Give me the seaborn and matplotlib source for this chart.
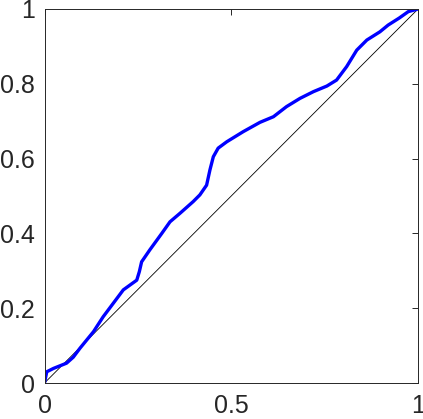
import matplotlib
matplotlib.use("Agg")
import matplotlib.pyplot as plt
import seaborn as sns
import pandas as pd

x_vals = [0.0, 0.006, 0.024, 0.059, 0.077, 0.095, 0.131, 0.157, 0.184, 0.211,
          0.247, 0.254, 0.260, 0.282, 0.314, 0.336, 0.363, 0.398, 0.416, 0.434,
          0.443, 0.452, 0.465, 0.488, 0.532, 0.577, 0.613, 0.648, 0.684, 0.720,
          0.756, 0.782, 0.809, 0.836, 0.863, 0.898, 0.920, 0.950, 0.974, 1.0]
y_vals = [0.0, 0.030, 0.039, 0.053, 0.069, 0.093, 0.137, 0.177, 0.213, 0.249,
          0.275, 0.298, 0.324, 0.356, 0.400, 0.431, 0.454, 0.485, 0.503, 0.529,
          0.570, 0.605, 0.628, 0.645, 0.672, 0.697, 0.712, 0.739, 0.761, 0.779,
          0.794, 0.810, 0.846, 0.890, 0.917, 0.939, 0.957, 0.976, 0.993, 1.0]
diag = [0.0, 1.0]
x_ticks = [0, 0.5, 1]
x_labels = ["0", "0.5", "1"]
y_ticks = [0, 0.2, 0.4, 0.6, 0.8, 1]
y_labels = ["0", "0.2", "0.4", "0.6", "0.8", "1"]

sns.set_style("white")
plt.rcParams['font.family'] = ['Liberation Sans', 'DejaVu Sans']

fig = plt.figure(figsize=(4.23, 4.19), dpi=100)
ax = fig.add_axes([44.5/423, 36/419, (418-44.5)/423, (383-9)/419])

df_diag = pd.DataFrame({"x": diag, "y": diag})
sns.lineplot(data=df_diag, x="x", y="y", ax=ax, color="black", linewidth=0.6, sort=False)
df = pd.DataFrame({"x": x_vals, "y": y_vals})
sns.lineplot(data=df, x="x", y="y", ax=ax, color="#0000ff", linewidth=2.4, sort=False)

ax.set_xlim(0, 1)
ax.set_ylim(0, 1)
ax.set_xticks(x_ticks)
ax.set_xticklabels(x_labels)
ax.set_yticks(y_ticks)
ax.set_yticklabels(y_labels)
ax.set_xlabel("")
ax.set_ylabel("")
for s in ax.spines.values():
    s.set_visible(True)
    s.set_color("#262626")
    s.set_linewidth(0.7)
ax.tick_params(direction="in", length=4, width=0.7, color="#262626",
               top=True, right=True, labelsize=18, labelcolor="#262626")
ax.tick_params(axis="y", pad=7)
ax.tick_params(axis="x", pad=8)

fig.savefig("out.png", dpi=100)
